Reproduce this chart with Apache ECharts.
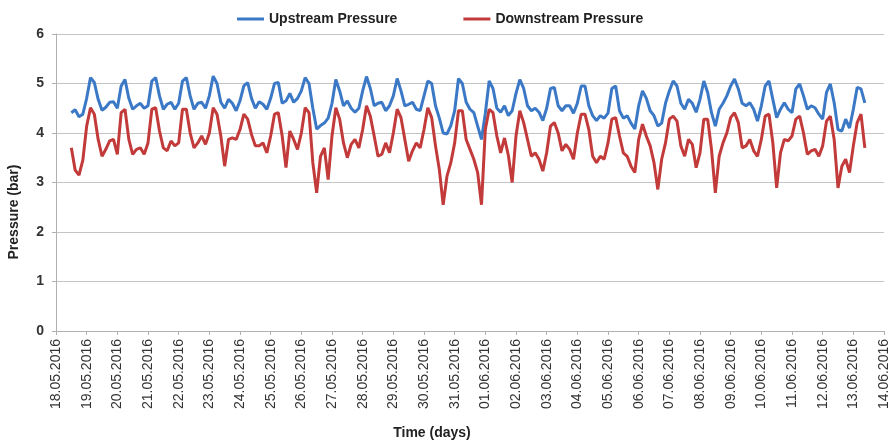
<!DOCTYPE html>
<html>
<head>
<meta charset="utf-8">
<script src="https://cdn.jsdelivr.net/npm/echarts@6/dist/echarts.min.js"></script>
<style>
html,body{margin:0;padding:0;background:#fff;}
#chart{width:894px;height:446px;}
</style>
</head>
<body>
<div id="chart"></div>
<script>
// Tick labels of the day axis (one per day, 18.05.2016 .. 14.06.2016)
const tickLabels = [
  "18.05.2016","19.05.2016","20.05.2016","21.05.2016","22.05.2016","23.05.2016",
  "24.05.2016","25.05.2016","26.05.2016","27.05.2016","28.05.2016","29.05.2016",
  "30.05.2016","31.05.2016","01.06.2016","02.06.2016","03.06.2016","04.06.2016",
  "05.06.2016","06.06.2016","07.06.2016","08.06.2016","09.06.2016","10.06.2016",
  "11.06.2016","12.06.2016","13.06.2016","14.06.2016"
];

// Sampling: first reading 18.05.2016 12:00 (day 0.5), one reading every 3 hours
const startDay = 0.5;
const stepDays = 0.125;

// Upstream pressure (bar), 3-hourly readings
const upstream = [
  4.41,4.47,4.33,4.38,
  4.70,5.12,5.02,4.68,4.46,4.52,4.62,4.63,
  4.50,4.95,5.08,4.70,4.48,4.55,4.60,4.50,
  4.55,5.05,5.12,4.75,4.48,4.58,4.62,4.48,
  4.60,5.05,5.12,4.75,4.48,4.60,4.62,4.50,
  4.75,5.15,5.00,4.62,4.50,4.68,4.60,4.45,
  4.65,4.95,5.02,4.70,4.50,4.63,4.58,4.48,
  4.70,5.00,5.02,4.60,4.65,4.80,4.62,4.70,
  4.85,5.12,5.00,4.50,4.08,4.15,4.20,4.30,
  4.60,5.08,4.85,4.55,4.65,4.50,4.42,4.50,
  4.85,5.14,4.90,4.55,4.60,4.62,4.45,4.55,
  4.75,5.10,4.85,4.55,4.58,4.62,4.48,4.45,
  4.75,5.05,5.00,4.55,4.30,4.00,3.98,4.15,
  4.45,5.10,5.00,4.62,4.48,4.41,4.14,3.87,
  4.40,5.05,4.90,4.50,4.42,4.55,4.35,4.45,
  4.80,5.08,4.90,4.55,4.45,4.50,4.42,4.25,
  4.50,4.90,4.92,4.55,4.45,4.55,4.55,4.40,
  4.60,4.95,4.95,4.55,4.35,4.25,4.35,4.30,
  4.40,4.90,4.95,4.45,4.30,4.35,4.20,4.08,
  4.55,4.85,4.70,4.45,4.35,4.14,4.20,4.60,
  4.85,5.05,4.95,4.60,4.48,4.68,4.60,4.42,
  4.68,5.05,4.82,4.41,4.14,4.48,4.60,4.75,
  4.95,5.09,4.89,4.60,4.55,4.61,4.48,4.24,
  4.55,4.95,5.05,4.68,4.31,4.48,4.61,4.48,
  4.41,4.89,4.99,4.75,4.48,4.55,4.51,4.38,
  4.28,4.82,4.99,4.61,4.07,4.04,4.28,4.10,
  4.48,4.92,4.89,4.61
];

// Downstream pressure (bar), 3-hourly readings
const downstream = [
  3.70,3.25,3.15,3.45,
  4.14,4.51,4.38,3.87,3.53,3.67,3.84,3.87,
  3.57,4.41,4.48,3.87,3.57,3.67,3.70,3.57,
  3.80,4.48,4.51,4.04,3.70,3.64,3.84,3.74,
  3.80,4.48,4.48,4.00,3.70,3.80,3.94,3.77,
  4.00,4.51,4.38,3.94,3.33,3.87,3.90,3.87,
  4.07,4.38,4.28,3.97,3.74,3.74,3.80,3.60,
  3.94,4.38,4.41,3.94,3.30,4.04,3.87,3.67,
  4.00,4.51,4.41,3.40,2.79,3.53,3.70,3.06,
  3.94,4.51,4.28,3.80,3.50,3.77,3.87,3.70,
  4.07,4.55,4.34,3.94,3.53,3.57,3.80,3.60,
  4.00,4.48,4.31,3.87,3.43,3.64,3.80,3.70,
  4.07,4.51,4.31,3.74,3.26,2.55,3.13,3.40,
  3.80,4.45,4.45,3.87,3.67,3.47,3.20,2.55,
  4.07,4.48,4.41,3.94,3.60,3.90,3.55,3.00,
  3.94,4.45,4.21,3.87,3.53,3.60,3.47,3.23,
  3.60,4.14,4.21,4.00,3.64,3.77,3.67,3.47,
  4.00,4.38,4.38,4.07,3.53,3.40,3.53,3.47,
  3.80,4.28,4.31,3.94,3.60,3.53,3.33,3.20,
  3.87,4.18,3.94,3.74,3.40,2.86,3.47,3.80,
  4.28,4.34,4.24,3.74,3.53,3.87,3.77,3.30,
  3.60,4.28,4.28,3.67,2.79,3.53,3.80,4.00,
  4.31,4.41,4.21,3.70,3.74,3.87,3.64,3.53,
  3.87,4.34,4.38,3.80,2.89,3.60,3.87,3.84,
  3.94,4.28,4.34,4.00,3.57,3.64,3.67,3.53,
  3.74,4.24,4.34,3.87,2.89,3.33,3.47,3.20,
  3.74,4.21,4.38,3.70
];

const seriesNames = ["Upstream Pressure", "Downstream Pressure"];
const yTicks = [0,1,2,3,4,5,6];

const FONT = "'Liberation Sans', Arial, sans-serif";
const toPairs = arr => arr.map((v, i) => [startDay + i * stepDays, v]);

const chart = echarts.init(document.getElementById('chart'), null, {renderer: 'canvas'});
chart.setOption({
  animation: false,
  backgroundColor: '#ffffff',
  grid: {left: 56, right: 10, top: 34, bottom: 115, containLabel: false},
  legend: {
    data: seriesNames,
    left: 232, top: 7,
    icon: 'rect', itemWidth: 27, itemHeight: 3, itemGap: 66,
    textStyle: {fontFamily: FONT, fontSize: 14, fontWeight: 'bold', color: '#222'}
  },
  xAxis: {
    type: 'value', min: 0, max: tickLabels.length - 1, interval: 1,
    axisLine: {show: true, lineStyle: {color: '#b0b0b0', width: 1}},
    axisTick: {show: true, length: 4, lineStyle: {color: '#b0b0b0'}},
    splitLine: {show: false},
    axisLabel: {
      rotate: 90, margin: 8, fontFamily: FONT, fontSize: 14, color: '#333',
      formatter: v => tickLabels[Math.round(v)]
    }
  },
  yAxis: {
    type: 'value', min: yTicks[0], max: yTicks[yTicks.length - 1], interval: 1,
    axisLine: {show: true, lineStyle: {color: '#b0b0b0', width: 1}},
    axisTick: {show: true, length: 4, lineStyle: {color: '#b0b0b0'}},
    splitLine: {show: true, lineStyle: {color: '#c4c4c4', width: 1}},
    axisLabel: {margin: 12, fontFamily: FONT, fontSize: 14, fontWeight: 'bold', color: '#333'}
  },
  graphic: [
    {type: 'text', x: 432, y: 433,
     style: {text: 'Time (days)', font: 'bold 14px ' + FONT, fill: '#222', textAlign: 'center', textVerticalAlign: 'middle'}},
    {type: 'text', x: 14, y: 212, rotation: Math.PI / 2,
     style: {text: 'Pressure (bar)', font: 'bold 14px ' + FONT, fill: '#222', textAlign: 'center', textVerticalAlign: 'middle'}}
  ],
  series: [
    {name: seriesNames[0], type: 'line', data: toPairs(upstream), symbol: 'none',
     lineStyle: {color: '#3b78c6', width: 3}, itemStyle: {color: '#3b78c6'}},
    {name: seriesNames[1], type: 'line', data: toPairs(downstream), symbol: 'none',
     lineStyle: {color: '#c23a3a', width: 3}, itemStyle: {color: '#c23a3a'}}
  ]
});
</script>
</body>
</html>
